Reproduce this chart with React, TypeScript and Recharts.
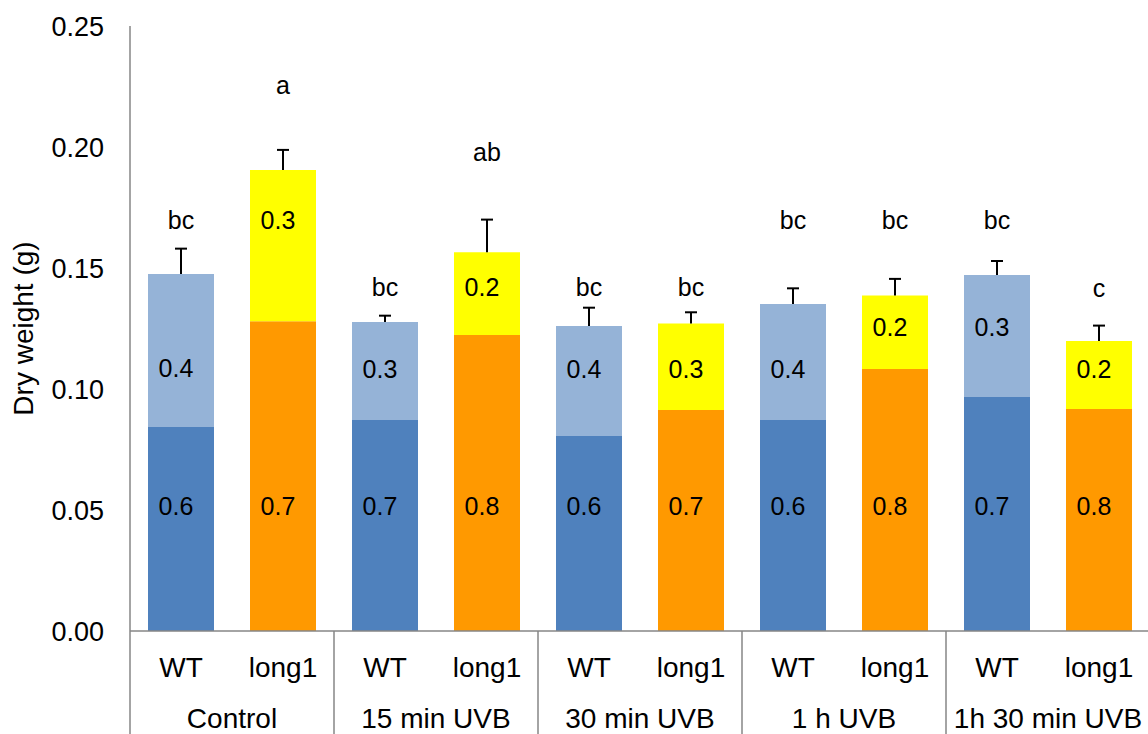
import React from "react";
import { Bar, BarChart, Cell, Label, ReferenceDot, XAxis, YAxis } from "recharts";

const groups = ["Control", "15 min UVB", "30 min UVB", "1 h UVB", "1h 30 min UVB"];
const genotypes = ["WT", "long1"];

// one entry per bar: Control WT, Control long1, 15 min WT, 15 min long1, ...
const lowerPart = [0.0843, 0.128, 0.0872, 0.1223, 0.0806, 0.0913, 0.0872, 0.1083, 0.0967, 0.0917];
const upperPart = [0.0632, 0.0625, 0.0405, 0.0342, 0.0454, 0.0358, 0.0479, 0.0303, 0.0504, 0.0281];
const errorUp = [0.0105, 0.0083, 0.0026, 0.0135, 0.0076, 0.0046, 0.0065, 0.0069, 0.0058, 0.0064];
const lowerShare = ["0.6", "0.7", "0.7", "0.8", "0.6", "0.7", "0.6", "0.8", "0.7", "0.8"];
const upperShare = ["0.4", "0.3", "0.3", "0.2", "0.4", "0.3", "0.4", "0.2", "0.3", "0.2"];
const letters = ["bc", "a", "bc", "ab", "bc", "bc", "bc", "bc", "bc", "c"];

// heights (in g) where the text boxes sit
const letterAt = [0.1698, 0.2256, 0.1421, 0.1979, 0.1421, 0.1421, 0.1698, 0.1698, 0.1698, 0.1417];
const upperShareAt = [0.1087, 0.1698, 0.1083, 0.1421, 0.1083, 0.1083, 0.1083, 0.1256, 0.1256, 0.1083];
const lowerShareAt = 0.0517;

const yTicks = [0, 0.05, 0.1, 0.15, 0.2, 0.25];

const colors: Record<string, { lower: string; upper: string }> = {
  WT: { lower: "#4F81BD", upper: "#95B3D7" },
  long1: { lower: "#FF9900", upper: "#FFFF00" },
};

const rows = groups.flatMap((group, g) =>
  genotypes.map((genotype, k) => {
    const i = g * genotypes.length + k;
    return {
      id: `${group}|${genotype}`,
      group,
      genotype,
      lower: lowerPart[i],
      upper: upperPart[i],
      err: errorUp[i],
    };
  })
);

const AXIS = "#868686";
const FONT = "'Liberation Sans', Arial, sans-serif";

function Whisker(props: any) {
  const { x, y, width, height } = props;
  const cx = x + width / 2;
  return (
    <g>
      <line x1={cx} x2={cx} y1={y + height} y2={y} stroke="#000" strokeWidth={2} />
      <line x1={cx - 6} x2={cx + 6} y1={y} y2={y} stroke="#000" strokeWidth={2} />
    </g>
  );
}

function GroupTick(props: any) {
  const { x, y, payload, width, visibleTicksCount, index } = props;
  const half = payload.offset || width / visibleTicksCount / 2;
  return (
    <g>
      <line x1={x - half} x2={x - half} y1={y - 77} y2={y + 40} stroke={AXIS} strokeWidth={1.5} />
      {index === visibleTicksCount - 1 && (
        <line x1={x + half} x2={x + half} y1={y - 77} y2={y + 40} stroke={AXIS} strokeWidth={1.5} />
      )}
      <text x={x} y={y} dy="0.71em" textAnchor="middle" fontSize={28} fill="#000">
        {payload.value}
      </text>
    </g>
  );
}

function YTitle(props: any) {
  const vb = props.viewBox;
  const cx = vb.x + 33;
  const cy = vb.y + vb.height / 2;
  return (
    <text x={cx} y={cy} transform={`rotate(-90 ${cx} ${cy})`} textAnchor="middle" fontSize={28} fill="#000">
      Dry weight (g)
    </text>
  );
}

function boxText(text: string, dx: number) {
  return (p: any) => (
    <text
      x={p.viewBox.x + dx}
      y={p.viewBox.y}
      textAnchor="middle"
      dominantBaseline="central"
      fontSize={25}
      fill="#000"
    >
      {text}
    </text>
  );
}

export default function App() {
  return (
    <div style={{ position: "absolute", left: 0, top: 0, width: 1148, height: 734, overflow: "hidden", background: "#fff" }}>
      <BarChart
        width={1152}
        height={734}
        data={rows}
        margin={{ top: 26, right: 2, left: 0, bottom: 0 }}
        barSize={66}
        style={{ fontFamily: FONT }}
      >
        <YAxis
          domain={[0, 0.25]}
          ticks={yTicks}
          tickFormatter={(v: number) => v.toFixed(2)}
          axisLine={{ stroke: AXIS, strokeWidth: 1.5 }}
          tickLine={false}
          tickSize={0}
          tickMargin={26}
          tick={{ fontSize: 27, fill: "#000" }}
          width={130}
        >
          <Label content={<YTitle />} />
        </YAxis>
        <XAxis
          dataKey="id"
          interval={0}
          tickFormatter={(v: string) => v.split("|")[1]}
          axisLine={{ stroke: AXIS, strokeWidth: 1.5 }}
          tickLine={false}
          tickSize={0}
          tickMargin={26}
          tick={{ fontSize: 28, fill: "#000" }}
          height={50}
        />
        <XAxis
          xAxisId="grp"
          dataKey="group"
          allowDuplicatedCategory={false}
          interval={0}
          axisLine={false}
          tickLine={false}
          tickSize={0}
          tickMargin={27}
          tick={<GroupTick />}
          height={53}
        />
        <Bar dataKey="lower" stackId="s" isAnimationActive={false}>
          {rows.map((r) => (
            <Cell key={r.id} fill={colors[r.genotype].lower} />
          ))}
        </Bar>
        <Bar dataKey="upper" stackId="s" isAnimationActive={false}>
          {rows.map((r) => (
            <Cell key={r.id} fill={colors[r.genotype].upper} />
          ))}
        </Bar>
        <Bar dataKey="err" stackId="s" isAnimationActive={false} shape={<Whisker />} />
        {rows.map((r, i) => (
          <ReferenceDot key={`l-${r.id}`} x={r.id} y={letterAt[i]} r={0} fill="none" stroke="none" label={boxText(letters[i], 0)} />
        ))}
        {rows.map((r, i) => (
          <ReferenceDot key={`u-${r.id}`} x={r.id} y={upperShareAt[i]} r={0} fill="none" stroke="none" label={boxText(upperShare[i], -5)} />
        ))}
        {rows.map((r, i) => (
          <ReferenceDot key={`d-${r.id}`} x={r.id} y={lowerShareAt} r={0} fill="none" stroke="none" label={boxText(lowerShare[i], -5)} />
        ))}
      </BarChart>
    </div>
  );
}
